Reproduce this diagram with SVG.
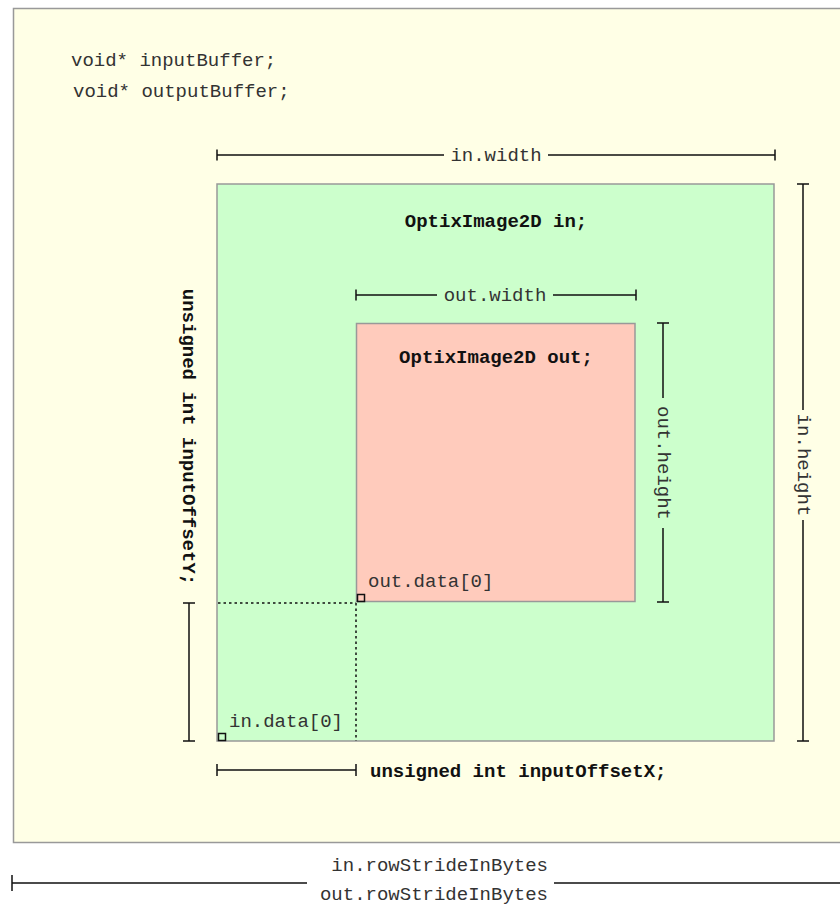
<svg xmlns="http://www.w3.org/2000/svg" width="840" height="909" viewBox="0 0 840 909">
<style>
.code{font-family:"Liberation Mono","Courier New",monospace;font-size:19px;fill:#333}
.bold{font-family:"Liberation Mono","Courier New",monospace;font-size:19px;font-weight:bold;fill:#111}
.dim{stroke:#111;stroke-width:1.5;fill:none}
.dot{stroke:#111;stroke-width:1.5;fill:none;stroke-dasharray:2.5 3}
.box{stroke:#999;stroke-width:1.5}
</style>
<rect x="0" y="0" width="840" height="909" fill="#ffffff"/>
<g id="bufferArea">
<rect class="box" x="13.5" y="8.5" width="900" height="834" fill="#ffffe6"/>
<text class="code" x="71" y="66">void* inputBuffer;</text>
<text class="code" x="73" y="97">void* outputBuffer;</text>
</g>
<g id="inImage">
<rect class="box" x="217" y="184" width="557" height="557" fill="#ccffcc"/>
<text class="bold" x="496" y="227" text-anchor="middle">OptixImage2D in;</text>
</g>
<g id="outImage">
<rect class="box" x="356.5" y="323.5" width="278.5" height="278" fill="#ffcbbc"/>
<text class="bold" x="496" y="363" text-anchor="middle">OptixImage2D out;</text>
</g>
<g id="connectors">
<!-- in.width -->
<path class="dim" d="M217 155H444M548 155H775M217 149.5V160.5M775 149.5V160.5"/>
<!-- out.width -->
<path class="dim" d="M356 295H437M553 295H636M356 289.5V300.5M636 289.5V300.5"/>
<!-- in.height -->
<path class="dim" d="M803 184V410M803 520V741M797 184H809M797 741H809"/>
<!-- out.height -->
<path class="dim" d="M663 323V398M663 528V602M657 323H669M657 602H669"/>
<!-- inputOffsetY -->
<path class="dim" d="M189 603V741M183 603H195M183 741H195"/>
<!-- inputOffsetX -->
<path class="dim" d="M217 770H356M217 764V776M356 764V776"/>
<!-- row stride -->
<path class="dim" d="M12 883H307M554 883H840M12 875V891"/>
<!-- dotted guides -->
<path class="dot" d="M218 603H356M356 603V741"/>
<rect x="357.5" y="594.5" width="7" height="7" fill="none" stroke="#111" stroke-width="1.5"/>
<rect x="218.5" y="733.5" width="7" height="7" fill="none" stroke="#111" stroke-width="1.5"/>
</g>
<g id="labels">
<text class="code" x="496" y="161" text-anchor="middle">in.width</text>
<text class="code" x="495" y="301" text-anchor="middle">out.width</text>
<text class="code" transform="translate(803 465) rotate(90)" text-anchor="middle" dominant-baseline="central">in.height</text>
<text class="code" transform="translate(663 463) rotate(90)" text-anchor="middle" dominant-baseline="central">out.height</text>
<text class="bold" transform="translate(188 437) rotate(90)" text-anchor="middle" dominant-baseline="central">unsigned int inputOffsetY;</text>
<text class="bold" x="370" y="777">unsigned int inputOffsetX;</text>
<text class="code" x="368" y="587">out.data[0]</text>
<text class="code" x="229" y="727">in.data[0]</text>
<text class="code" x="548" y="871" text-anchor="end">in.rowStrideInBytes</text>
<text class="code" x="548" y="900" text-anchor="end">out.rowStrideInBytes</text>
</g>
</svg>
